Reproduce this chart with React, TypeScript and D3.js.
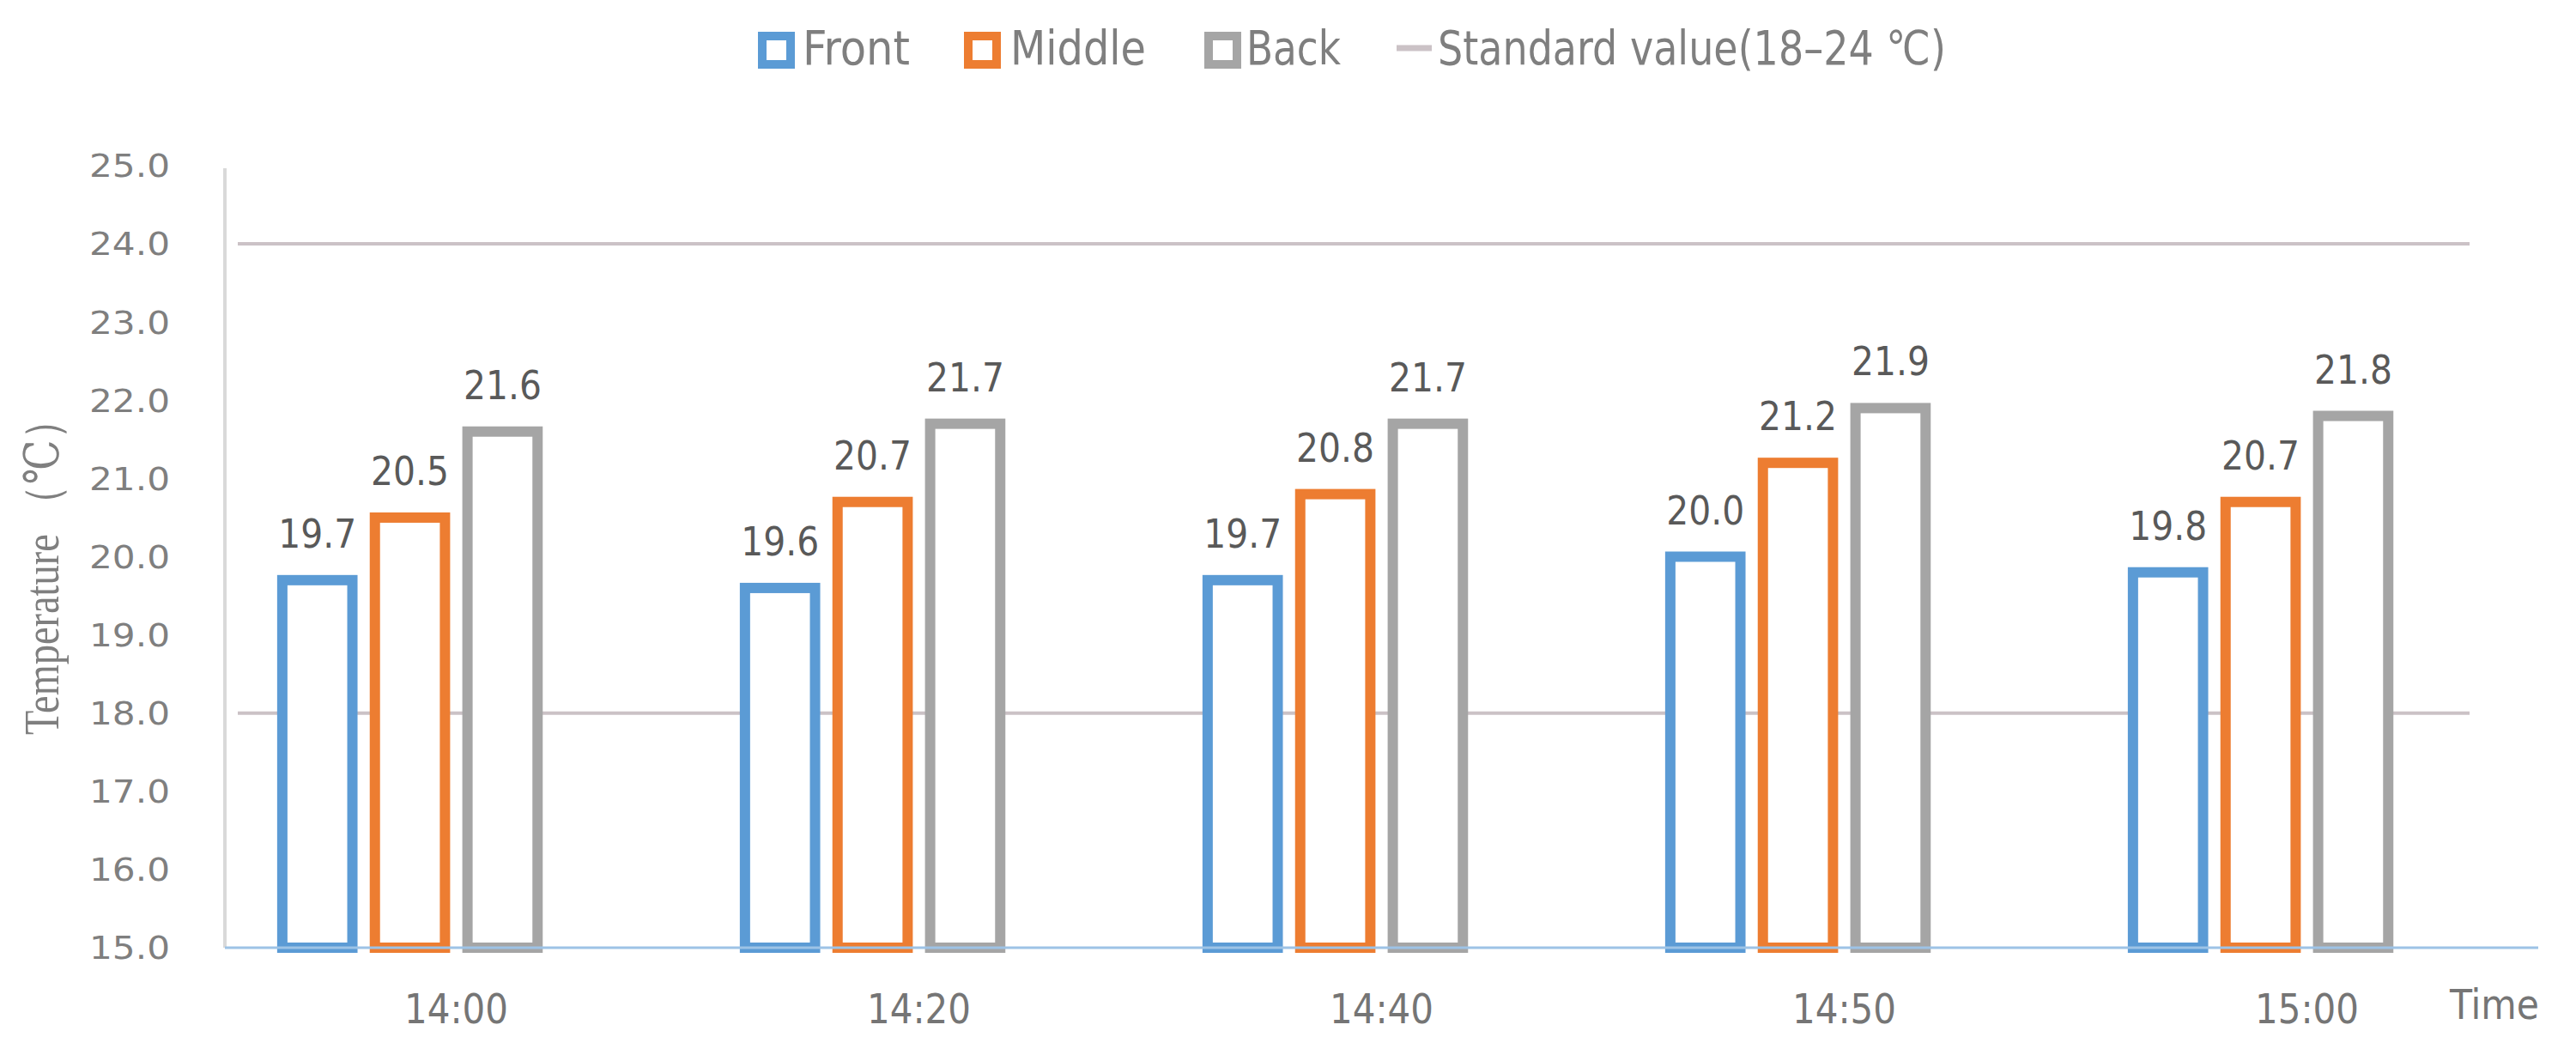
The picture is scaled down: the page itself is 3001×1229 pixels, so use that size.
import React from "react";
import * as d3 from "d3";

const categories = ["14:00", "14:20", "14:40", "14:50", "15:00"];
const seriesNames = ["Front", "Middle", "Back"];
const front = [19.7, 19.6, 19.7, 20.0, 19.8];
const middle = [20.5, 20.7, 20.8, 21.2, 20.7];
const back = [21.6, 21.7, 21.7, 21.9, 21.8];
const standardLow = 18;
const standardHigh = 24;
const yTicks = [15, 16, 17, 18, 19, 20, 21, 22, 23, 24, 25];

const colors: Record<string, string> = {
  Front: "#5b9bd5",
  Middle: "#ed7d31",
  Back: "#a5a5a5",
};
const stdColor = "#cbc2c6";

const W = 3001;
const H = 1229;
const plotLeft = 262;
const plotRight = 2957;
const plotTop = 193;
const plotBottom = 1104;

export default function App() {
  const y = d3.scaleLinear().domain([15, 25]).range([plotBottom, plotTop]);
  const x0 = d3.scaleBand<string>().domain(categories).range([plotLeft, plotRight]).padding(0);
  const x1 = d3
    .scaleBand<string>()
    .domain([...seriesNames, "Standard"])
    .range([0, x0.bandwidth()])
    .paddingInner(0.243)
    .paddingOuter(0.62);
  const seriesData: Record<string, number[]> = { Front: front, Middle: middle, Back: back };
  const sw = 12;

  const legendItems = [
    { name: "Front", sq: 883, tx: 935, tl: 125 },
    { name: "Middle", sq: 1123, tx: 1177, tl: 158 },
    { name: "Back", sq: 1403, tx: 1452, tl: 110 },
  ];
  const legendFont = "DejaVu Sans Condensed, DejaVu Sans";

  return (
    <svg
      width={W}
      height={H}
      style={{ position: "absolute", left: 0, top: 0, display: "block", background: "#fff" }}
    >
      {/* Legend */}
      {legendItems.map((it) => (
        <g key={it.name}>
          <rect x={it.sq + 5} y={37 + 5} width={33} height={33} fill="#fff" stroke={colors[it.name]} strokeWidth={10} />
          <text
            x={it.tx}
            y={75}
            fontFamily={legendFont}
            fontSize={55}
            fill="#7f7f7f"
            textLength={it.tl}
            lengthAdjust="spacingAndGlyphs"
          >
            {it.name}
          </text>
        </g>
      ))}
      <line x1={1627} x2={1668} y1={56} y2={56} stroke={stdColor} strokeWidth={7} />
      <text
        x={1675}
        y={75}
        fontFamily={legendFont}
        fontSize={55}
        fill="#7f7f7f"
        textLength={592}
        lengthAdjust="spacingAndGlyphs"
      >
        Standard value(18–24 ℃)
      </text>

      {/* Y axis line */}
      <line x1={plotLeft} x2={plotLeft} y1={plotTop + 3} y2={plotBottom} stroke="#d9d9d9" strokeWidth={4} />

      {/* Y ticks */}
      {yTicks.map((t) => (
        <text
          key={t}
          x={198}
          y={y(t)}
          dy="0.36em"
          textAnchor="end"
          fontFamily="DejaVu Sans"
          fontSize={37}
          fill="#7f7f7f"
          textLength={94}
          lengthAdjust="spacingAndGlyphs"
        >
          {t.toFixed(1)}
        </text>
      ))}

      {/* Y title */}
      <text
        transform={`translate(68, 661) rotate(-90)`}
        textAnchor="middle"
        fontFamily="Liberation Serif, DejaVu Serif, serif"
        fontSize={56}
        fill="#7f7f7f"
        textLength={390}
        lengthAdjust="spacingAndGlyphs"
      >
        Temperature （℃）
      </text>

      {/* Standard lines */}
      {[standardHigh, standardLow].map((v) => (
        <line key={v} x1={277} x2={2877} y1={y(v)} y2={y(v)} stroke={stdColor} strokeWidth={4} />
      ))}

      {/* Bars */}
      {categories.map((c, i) => (
        <g key={c} transform={`translate(${x0(c)},0)`}>
          {seriesNames.map((s) => {
            const v = seriesData[s][i];
            const bx = x1(s)!;
            const bw = x1.bandwidth();
            return (
              <g key={s}>
                <rect
                  x={bx}
                  y={y(v)}
                  width={bw}
                  height={y(15) - y(v)}
                  fill="#fff"
                  stroke={colors[s]}
                  strokeWidth={sw}
                />
                <text
                  x={bx + bw / 2}
                  y={y(v) - 38}
                  textAnchor="middle"
                  fontFamily="DejaVu Sans"
                  fontSize={47}
                  fill="#595959"
                  textLength={91}
                  lengthAdjust="spacingAndGlyphs"
                >
                  {v.toFixed(1)}
                </text>
              </g>
            );
          })}
        </g>
      ))}

      {/* Baseline */}
      <line x1={plotLeft} x2={plotRight} y1={plotBottom} y2={plotBottom} stroke="#9dc3e6" strokeWidth={3} />

      {/* Category labels */}
      {categories.map((c) => (
        <text
          key={c}
          x={x0(c)! + x0.bandwidth() / 2}
          y={1192}
          textAnchor="middle"
          fontFamily={legendFont}
          fontSize={48}
          fill="#757575"
          textLength={121}
          lengthAdjust="spacingAndGlyphs"
        >
          {c}
        </text>
      ))}
      <text
        x={2854}
        y={1187}
        fontFamily={legendFont}
        fontSize={48}
        fill="#757575"
        textLength={104}
        lengthAdjust="spacingAndGlyphs"
      >
        Time
      </text>
    </svg>
  );
}
